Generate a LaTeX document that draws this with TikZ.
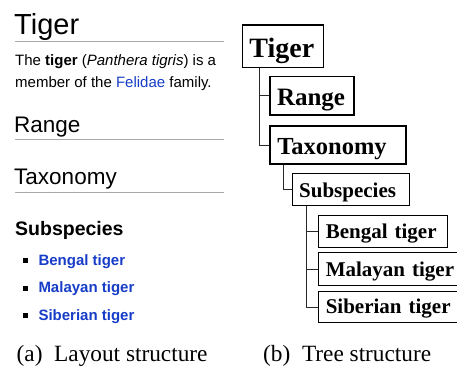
\documentclass[tikz,border=0pt]{standalone}
\usepackage{fontspec}
\setmainfont{Liberation Serif}
\newfontfamily\wikifont{Liberation Sans}
\definecolor{linkblue}{RGB}{22,60,200}
\definecolor{rulegray}{RGB}{170,170,170}
\definecolor{conngray}{RGB}{40,40,40}
\newcommand{\fsz}[1]{\fontsize{#1}{#1}\selectfont}
\tikzset{
  wikitext/.style={anchor=base west, inner sep=0pt, font=\wikifont\fsz{#1}},
  linktext/.style={anchor=base west, inner sep=0pt, text=linkblue, font=\wikifont\bfseries\fsz{15}},
  wikirule/.style={draw=rulegray, line width=1.2pt},
  bulletsq/.style={fill=black},
  tbox/.style n args={4}{draw, anchor=north west, font=\bfseries\fsz{#1},
    inner xsep=7pt, inner ysep=0pt, text width=#2, align=left,
    minimum height=#3, text height=#4, text depth=0pt},
  conn/.style={draw=conngray, line width=1pt},
  captiontext/.style={anchor=base west, inner sep=0pt, font=\fsz{23.3}}
}
\begin{document}
\begin{tikzpicture}[x=1pt,y=-1pt]
\clip (0,0) rectangle (457,367);
\useasboundingbox (0,0) rectangle (457,367);
% ---------- (a) Layout structure ----------
\node[wikitext=29] (htiger) at (14,34) {Tiger};
\draw[wikirule] (15,41.7) -- (224,41.7);
\node[wikitext=15] (para1) at (15,65) {The \textbf{tiger} (\textit{Panthera tigris}) is a};
\node[wikitext=15] (para2) at (15,87) {member of the \textcolor{linkblue}{Felidae} family.};
\node[wikitext=22.5] (hrange) at (14,132.3) {Range};
\draw[wikirule] (15,139.3) -- (224,139.3);
\node[wikitext=22.5] (htax) at (14,184.5) {Taxonomy};
\draw[wikirule] (15,192.3) -- (224,192.3);
\node[wikitext=19.5, font=\wikifont\bfseries\fsz{19.5}] (hsub) at (15,235) {Subspecies};
\fill[bulletsq] (22.5,258.2) rectangle (27.5,263.2);
\fill[bulletsq] (22.5,285.5) rectangle (27.5,290.5);
\fill[bulletsq] (22.5,313.2) rectangle (27.5,318.2);
\node[linktext] (lbengal) at (38.3,265) {Bengal tiger};
\node[linktext] (lmalayan) at (38.3,292.3) {Malayan tiger};
\node[linktext] (lsiberian) at (38.3,320) {Siberian tiger};
\node[captiontext] (capa) at (16.5,361.5) {(a)\enskip Layout structure};
% ---------- (b) Tree structure ----------
\node[tbox={28}{67pt}{42.3pt}{22pt}, line width=1.4pt] (tiger) at (241.7,24.3) {Tiger};
\node[tbox={25}{70pt}{38.3pt}{19.6pt}, line width=1.4pt] (range) at (269.3,76) {Range};
\node[tbox={24.5}{121.7pt}{38.3pt}{19.6pt}, line width=2pt] (taxonomy) at (269.3,125) {Taxonomy};
\node[tbox={21}{103.6pt}{32.5pt}{15.8pt}, line width=0.9pt] (subspecies) at (291.7,172.7) {Subspecies};
\node[tbox={21}{115pt}{32.3pt}{14.2pt}, line width=1pt] (bengal) at (318.3,215) {Bengal tiger};
\node[tbox={21}{140pt}{32.7pt}{14.6pt}, line width=1pt] (malayan) at (318.3,252.3) {Malayan tiger};
\node[tbox={21}{140pt}{31.6pt}{13.6pt}, line width=1pt] (siberian) at (318.3,290.7) {Siberian tiger};
\draw[conn] (tiger.south west) ++(17.6,0) |- (range.west);
\draw[conn] (tiger.south west) ++(17.6,0) |- (taxonomy.west);
\draw[conn] (taxonomy.south west) ++(14,0) |- (subspecies.west);
\draw[conn] (subspecies.south west) ++(14.3,0) |- (bengal.west);
\draw[conn] (subspecies.south west) ++(14.3,0) |- (malayan.west);
\draw[conn] (subspecies.south west) ++(14.3,0) |- (siberian.west);
\node[captiontext] (capb) at (263,361.5) {(b)\enskip Tree structure};
\end{tikzpicture}
\end{document}
